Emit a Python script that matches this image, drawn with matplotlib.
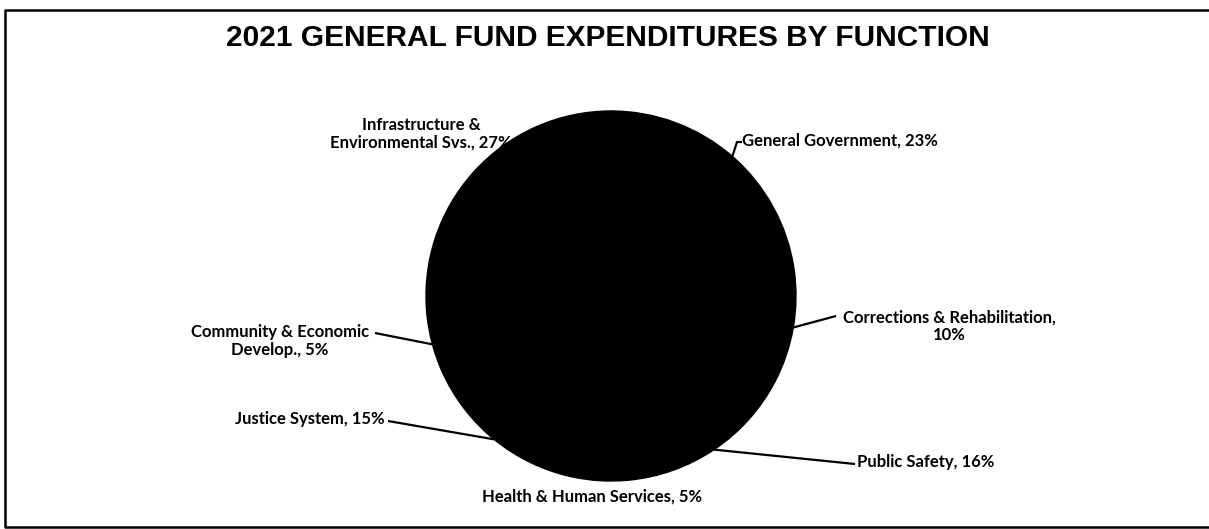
import numpy as np
import matplotlib
matplotlib.use("Agg")
import matplotlib.pyplot as plt

# 2021 General Fund expenditures by function (percent)
categories = ["General Government", "Corrections & Rehabilitation", "Public Safety",
              "Health & Human Services", "Justice System", "Community & Economic Develop.",
              "Infrastructure & Environmental Svs."]
shares = [23, 10, 16, 5, 15, 5, 27]
labels = ["General Government, 23%",
          "Corrections & Rehabilitation,\n10%",
          "Public Safety, 16%",
          "Health & Human Services, 5%",
          "Justice System, 15%",
          "Community & Economic\nDevelop., 5%",
          "Infrastructure &\nEnvironmental Svs., 27%"]

W, H = 1209, 529
fig = plt.figure(figsize=(W / 100, H / 100), dpi=100)
ax = fig.add_axes([0, 0, 1, 1])

def py(y):  # pixel row (top-down) -> data y
    return H - y

cx, cy, r = 611, py(296), 185
wedges, _ = ax.pie(shares, startangle=90, counterclock=False, colors=["black"] * len(shares),
                   center=(cx, cy), radius=r, frame=True,
                   wedgeprops=dict(edgecolor="black", linewidth=1.0, zorder=3))
ax.set_xlim(0, W)
ax.set_ylim(0, H)
ax.set_aspect("equal")
ax.axis("off")

# label placement: (x, y_px), alignment, leader end points
place = {
    0: dict(xy=(742, 141), ha="left", path=[(737, 142), (742, 142)]),
    1: dict(xy=(949, 326), ha="center", path=[(836, 316)]),
    2: dict(xy=(857, 462), ha="left", path=[(855, 464)]),
    3: dict(xy=(592, 497), ha="center", path=None),
    4: dict(xy=(385, 419), ha="right", path=[(388, 421)]),
    5: dict(xy=(280, 341), ha="center", path=[(375, 333)]),
    6: dict(xy=(421, 134), ha="center", path=None),
}

font = dict(family=["Lato", "DejaVu Sans"], fontweight="bold", fontsize=12, color="black")
for i, w in enumerate(wedges):
    p = place[i]
    ax.text(p["xy"][0], py(p["xy"][1]), labels[i], ha=p["ha"], va="center",
            multialignment="center", linespacing=1.15, zorder=2, **font)
    if p["path"]:
        ang = np.deg2rad((w.theta1 + w.theta2) / 2)
        xs = [cx + r * np.cos(ang)] + [q[0] for q in p["path"]]
        ys = [cy + r * np.sin(ang)] + [py(q[1]) for q in p["path"]]
        ax.plot(xs, ys, color="black", lw=1.6, solid_capstyle="butt", zorder=4)

ax.text(608, py(38), "2021 GENERAL FUND EXPENDITURES BY FUNCTION", ha="center", va="center",
        family=["Liberation Sans"], fontweight="bold", fontsize=21.5)

# outer frame
ax.plot([1209, 5, 5, 1209], [py(10), py(10), py(527), py(527)], color="black", lw=1.8,
        clip_on=False)

fig.savefig("out.png", dpi=100, facecolor="white")
